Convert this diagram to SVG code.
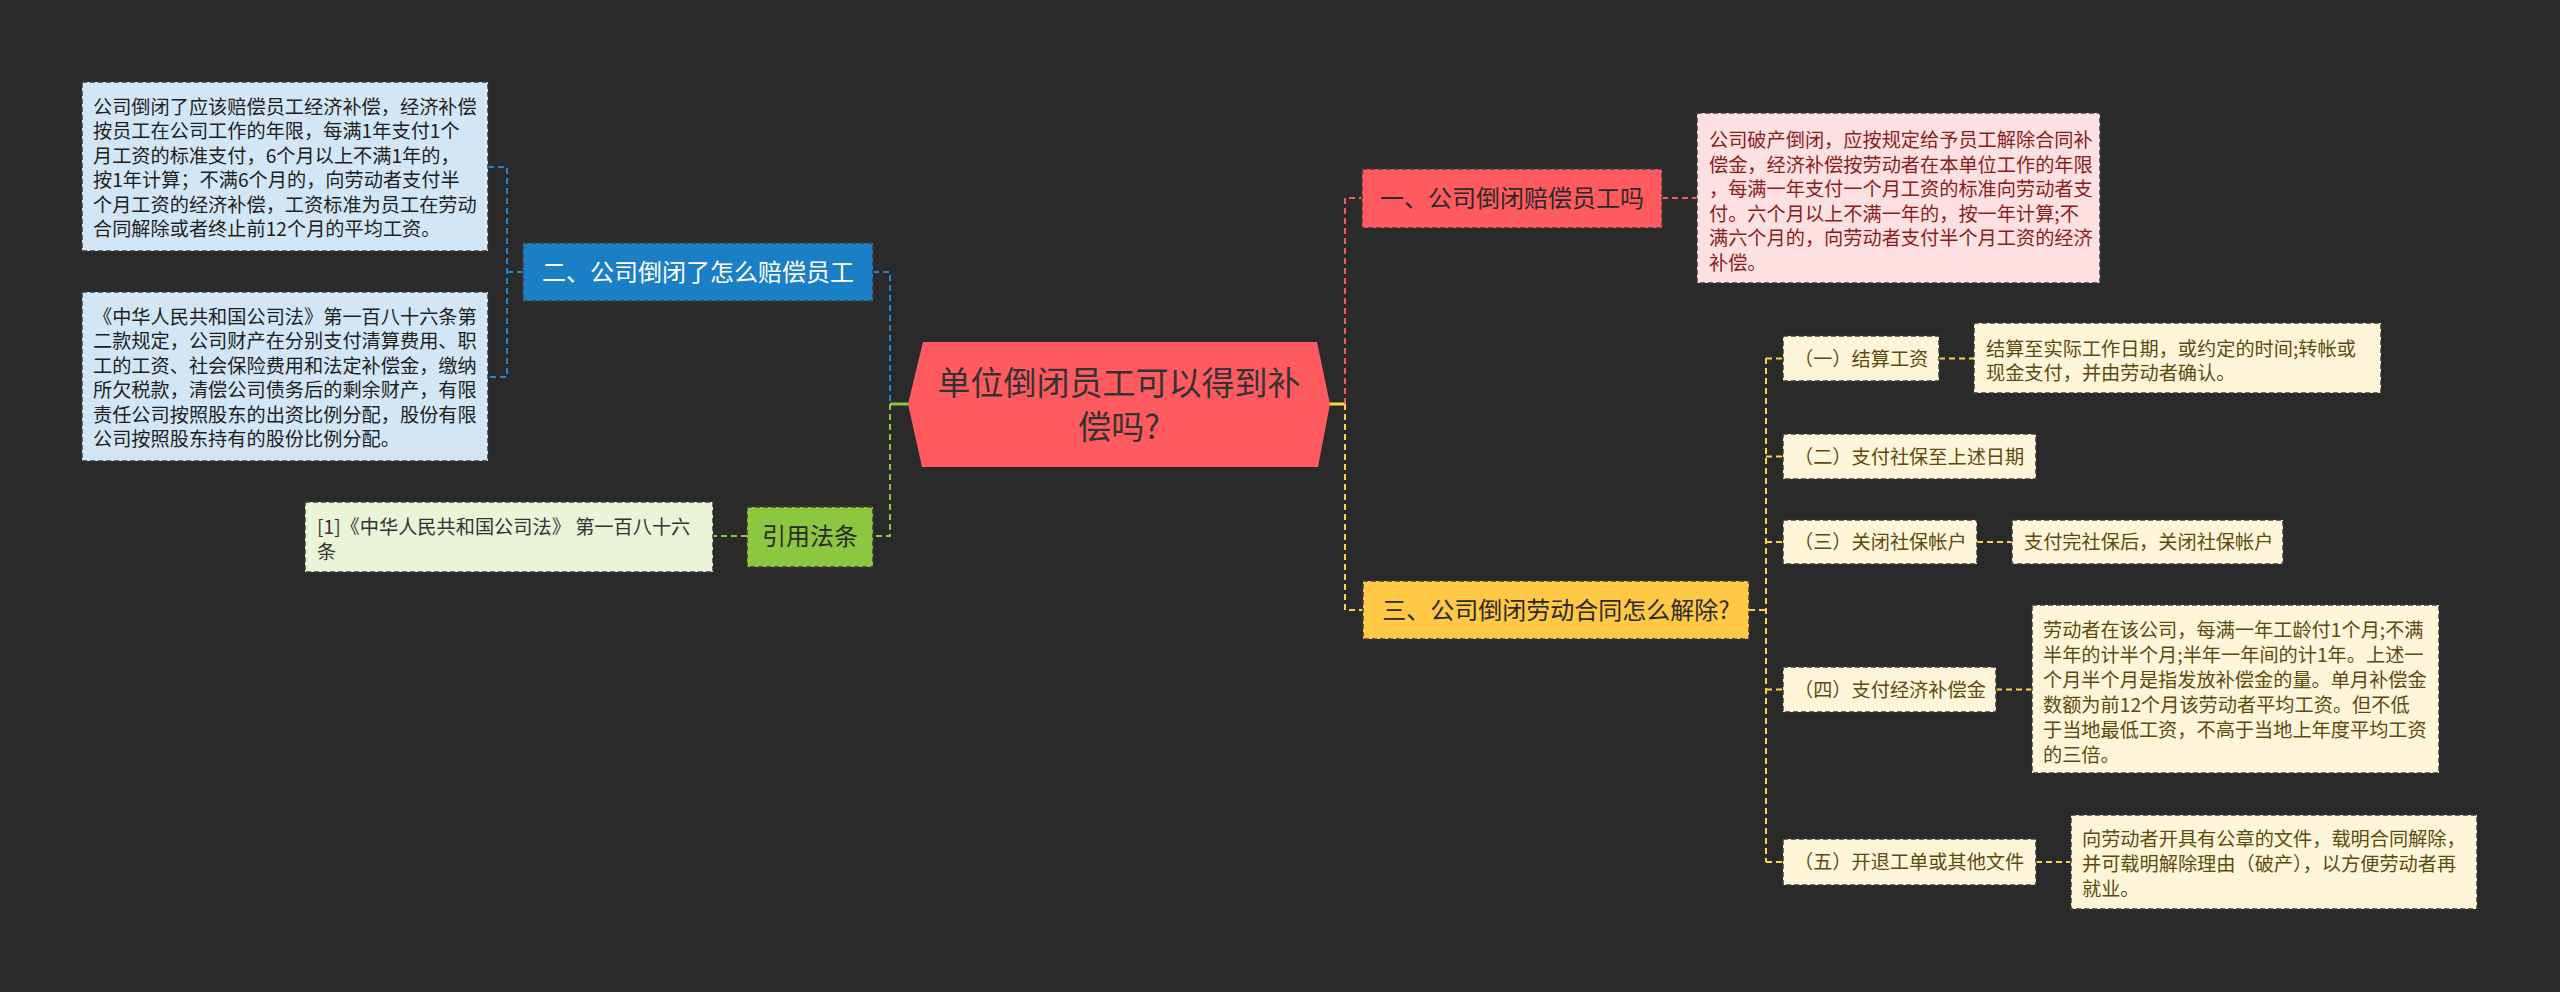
<svg xmlns="http://www.w3.org/2000/svg" width="2560" height="992" viewBox="0 0 2560 992">
<style>
text{font-family:"Noto Sans CJK SC","Noto Sans",sans-serif;}
.bd{stroke:#3a3a3a;stroke-width:1.5;stroke-dasharray:5 3;}
.t19{font-size:19.2px;}
.t24{font-size:24px;text-anchor:middle;}
.c{fill:none;stroke-width:2;stroke-dasharray:6 4;}
.s{fill:none;stroke-width:3;}
.blue{stroke:#1E86CF;}
.green{stroke:#8DC63F;}
.red{stroke:#F45B60;}
.yel{stroke:#FFD04A;}
.cream{fill:#FFF6DA;}
.ct{fill:#5E4A10;}
</style>
<rect width="2560" height="992" fill="#2a2a2a"/>

<g id="connectors">
  <path class="c blue" d="M488 167H507V377H488M507 272H523"/>
  <path class="c blue" d="M873 272H890V404"/>
  <path class="s green" d="M908 404H890"/>
  <path class="c green" d="M890 404V536H873M747 536H713"/>
  <path class="s yel" d="M1328 404H1345"/>
  <path class="c red" d="M1345 404V198H1362M1662 198H1697"/>
  <path class="c yel" d="M1345 404V610H1363M1749 610H1766M1766 358V862"/>
  <path class="c yel" d="M1766 358.5H1783M1766 456.5H1783M1766 542H1783M1766 689.5H1783M1766 862H1783"/>
  <path class="c yel" d="M1939 358.5H1974M1977 542H2012M1996 689.5H2032M2036 862H2071"/>
</g>

<g id="center">
  <polygon points="923,342 1317,342 1330,404 1318,467 922,467 908,404" fill="#FF5A5F"/>
  <text x="1119" y="395" font-size="33" text-anchor="middle" fill="#333">单位倒闭员工可以得到补</text>
  <text x="1119" y="439" font-size="33" text-anchor="middle" fill="#333">偿吗?</text>
</g>

<g id="n-left-topic">
  <rect class="bd" x="523" y="243" width="350" height="58" fill="#1A7FC4"/>
  <text class="t24" x="698" y="280.5" fill="#fff">二、公司倒闭了怎么赔偿员工</text>
</g>

<g id="n-left-note1">
  <rect class="bd" x="82" y="82" width="406" height="169" fill="#D3E6F5"/>
  <text class="t19" x="93" fill="#1e1e1e">
    <tspan x="93" y="113.5">公司倒闭了应该赔偿员工经济补偿，经济补偿</tspan>
    <tspan x="93" y="138">按员工在公司工作的年限，每满1年支付1个</tspan>
    <tspan x="93" y="162.5">月工资的标准支付，6个月以上不满1年的，</tspan>
    <tspan x="93" y="187">按1年计算；不满6个月的，向劳动者支付半</tspan>
    <tspan x="93" y="211.5">个月工资的经济补偿，工资标准为员工在劳动</tspan>
    <tspan x="93" y="236">合同解除或者终止前12个月的平均工资。</tspan>
  </text>
</g>

<g id="n-left-note2">
  <rect class="bd" x="82" y="292" width="406" height="169" fill="#D3E6F5"/>
  <text class="t19" x="93" fill="#1e1e1e">
    <tspan x="93" y="323.5">《中华人民共和国公司法》第一百八十六条第</tspan>
    <tspan x="93" y="348">二款规定，公司财产在分别支付清算费用、职</tspan>
    <tspan x="93" y="372.5">工的工资、社会保险费用和法定补偿金，缴纳</tspan>
    <tspan x="93" y="397">所欠税款，清偿公司债务后的剩余财产，有限</tspan>
    <tspan x="93" y="421.5">责任公司按照股东的出资比例分配，股份有限</tspan>
    <tspan x="93" y="446">公司按照股东持有的股份比例分配。</tspan>
  </text>
</g>

<g id="n-cite-topic">
  <rect class="bd" x="747" y="507" width="126" height="60" fill="#8DC63F"/>
  <text class="t24" x="810" y="544.5" fill="#2a2a2a">引用法条</text>
</g>

<g id="n-cite-note">
  <rect class="bd" x="305" y="502" width="408" height="70" fill="#E9F4D8"/>
  <text class="t19" x="317" fill="#333">
    <tspan x="317" y="534">[1]《中华人民共和国公司法》 第一百八十六</tspan>
    <tspan x="317" y="559">条</tspan>
  </text>
</g>

<g id="n-right-topic1">
  <rect class="bd" x="1362" y="169" width="300" height="59" fill="#FF5A5F"/>
  <text class="t24" x="1512" y="206.5" fill="#2a2a2a">一、公司倒闭赔偿员工吗</text>
</g>

<g id="n-right-note1">
  <rect class="bd" x="1697" y="113" width="403" height="170" fill="#FDE1E2"/>
  <text class="t19" x="1709" fill="#8B1C1C">
    <tspan x="1709" y="147">公司破产倒闭，应按规定给予员工解除合同补</tspan>
    <tspan x="1709" y="171.5">偿金，经济补偿按劳动者在本单位工作的年限</tspan>
    <tspan x="1709" y="196">，每满一年支付一个月工资的标准向劳动者支</tspan>
    <tspan x="1709" y="220.5">付。六个月以上不满一年的，按一年计算;不</tspan>
    <tspan x="1709" y="245">满六个月的，向劳动者支付半个月工资的经济</tspan>
    <tspan x="1709" y="269.5">补偿。</tspan>
  </text>
</g>

<g id="n-right-topic3">
  <rect class="bd" x="1363" y="581" width="386" height="58" fill="#FFC845"/>
  <text class="t24" x="1556" y="618.5" fill="#2a2a2a">三、公司倒闭劳动合同怎么解除?</text>
</g>

<g id="n-sub1">
  <rect class="bd cream" x="1783" y="336" width="156" height="45"/>
  <text class="t19 ct" x="1794" y="365.5">（一）结算工资</text>
</g>
<g id="n-sub1-note">
  <rect class="bd cream" x="1974" y="323" width="407" height="70"/>
  <text class="t19 ct" x="1986">
    <tspan x="1986" y="356">结算至实际工作日期，或约定的时间;转帐或</tspan>
    <tspan x="1986" y="380">现金支付，并由劳动者确认。</tspan>
  </text>
</g>

<g id="n-sub2">
  <rect class="bd cream" x="1783" y="434" width="253" height="45"/>
  <text class="t19 ct" x="1794" y="463.5">（二）支付社保至上述日期</text>
</g>

<g id="n-sub3">
  <rect class="bd cream" x="1783" y="520" width="194" height="44"/>
  <text class="t19 ct" x="1794" y="549">（三）关闭社保帐户</text>
</g>
<g id="n-sub3-note">
  <rect class="bd cream" x="2012" y="520" width="271" height="44"/>
  <text class="t19 ct" x="2024" y="549">支付完社保后，关闭社保帐户</text>
</g>

<g id="n-sub4">
  <rect class="bd cream" x="1783" y="667" width="213" height="45"/>
  <text class="t19 ct" x="1794" y="696.5">（四）支付经济补偿金</text>
</g>
<g id="n-sub4-note">
  <rect class="bd cream" x="2032" y="605" width="407" height="168"/>
  <text class="t19 ct" x="2043">
    <tspan x="2043" y="637">劳动者在该公司，每满一年工龄付1个月;不满</tspan>
    <tspan x="2043" y="662">半年的计半个月;半年一年间的计1年。上述一</tspan>
    <tspan x="2043" y="687">个月半个月是指发放补偿金的量。单月补偿金</tspan>
    <tspan x="2043" y="712">数额为前12个月该劳动者平均工资。但不低</tspan>
    <tspan x="2043" y="737">于当地最低工资，不高于当地上年度平均工资</tspan>
    <tspan x="2043" y="762">的三倍。</tspan>
  </text>
</g>

<g id="n-sub5">
  <rect class="bd cream" x="1783" y="839" width="253" height="46"/>
  <text class="t19 ct" x="1794" y="869">（五）开退工单或其他文件</text>
</g>
<g id="n-sub5-note">
  <rect class="bd cream" x="2071" y="815" width="406" height="94"/>
  <text class="t19 ct" x="2082">
    <tspan x="2082" y="846">向劳动者开具有公章的文件，载明合同解除，</tspan>
    <tspan x="2082" y="871">并可载明解除理由（破产），以方便劳动者再</tspan>
    <tspan x="2082" y="896">就业。</tspan>
  </text>
</g>
</svg>
